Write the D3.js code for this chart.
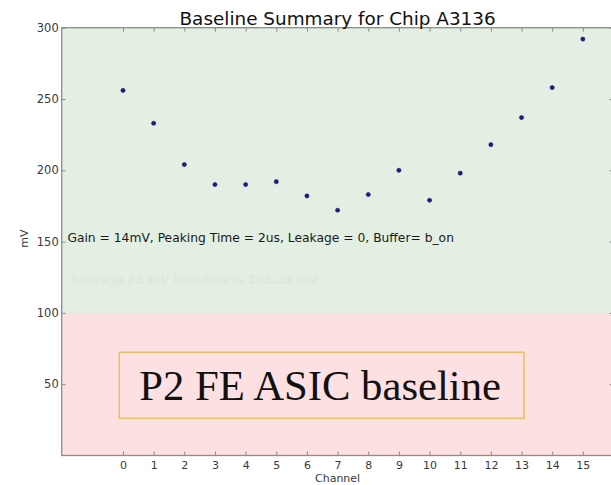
<!DOCTYPE html>
<html>
<head>
<meta charset="utf-8">
<script src="https://cdn.jsdelivr.net/npm/d3@7"></script>
<style>
  html, body { margin: 0; padding: 0; background: #fff; }
  svg { display: block; }
  .tick text { font-family: "DejaVu Sans", sans-serif; fill: #3a3a3a; }
</style>
</head>
<body>
<div id="chart"></div>
<script>
'use strict';

// Data
const channels = [0, 1, 2, 3, 4, 5, 6, 7, 8, 9, 10, 11, 12, 13, 14, 15];
const baseline = [256, 233, 204, 190, 190, 192, 182, 172, 183, 200, 179, 198, 218, 237, 258, 292];
const yTicks = [50, 100, 150, 200, 250, 300];
const bands = [
    {from: 100, to: 300, color: '#e2efe2'},
    {from: 0, to: 100, color: '#fde0e1'}
];
const titleText = 'Baseline Summary for Chip A3136';
const noteText = 'Gain = 14mV, Peaking Time = 2us, Leakage = 0, Buffer= b_on';
const fadedText = 'Average FE mV baseline is 203.23 mV';
const boxText = 'P2 FE ASIC baseline';

// Config svg
const w = 611;
const h = 485;
const svg = d3.select('#chart')
    .append('svg')
    .attr('width', w)
    .attr('height', h);

// Scales
const x = d3.scaleLinear().domain([-2, 16]).range([61.7, 613.5]);
const y = d3.scaleLinear().domain([0, 300]).range([455.5, 27.7]);

// Background bands
svg.selectAll('.band')
    .data(bands)
    .join('rect')
    .attr('class', 'band')
    .attr('x', x(-2))
    .attr('width', x(16) - x(-2))
    .attr('y', d => y(d.to))
    .attr('height', d => y(d.from) - y(d.to))
    .attr('fill', d => d.color);

// Faded text (barely visible in the original)
svg.append('text')
    .attr('x', 70)
    .attr('y', 284)
    .attr('textLength', 248)
    .attr('lengthAdjust', 'spacingAndGlyphs')
    .style('font-family', '"DejaVu Sans", sans-serif')
    .style('font-weight', 'bold')
    .style('font-size', '13px')
    .attr('fill', '#dbeadb')
    .text(fadedText);

// Axes
const axisColor = '#8c8c8c';
const styleAxis = g => {
    g.select('.domain').remove();
    g.selectAll('.tick line').attr('stroke', axisColor).attr('stroke-width', 1);
};

svg.append('g')
    .attr('transform', `translate(0,${y(0)})`)
    .call(d3.axisBottom(x).tickValues(channels).tickSize(-4).tickPadding(5.5))
    .call(styleAxis)
    .selectAll('text').style('font-size', '11px');

svg.append('g')
    .attr('transform', `translate(0,${y(300)})`)
    .call(d3.axisTop(x).tickValues(channels).tickSize(-4).tickFormat(''))
    .call(styleAxis);

svg.append('g')
    .attr('transform', `translate(${x(-2)},0)`)
    .call(d3.axisLeft(y).tickValues(yTicks).tickSize(-4).tickPadding(3))
    .call(styleAxis)
    .selectAll('text').style('font-size', '11.5px');

svg.append('g')
    .attr('transform', `translate(${x(16)},0)`)
    .call(d3.axisRight(y).tickValues(yTicks).tickSize(-4).tickFormat(''))
    .call(styleAxis);

// Frame
svg.append('rect')
    .attr('x', x(-2))
    .attr('y', y(300))
    .attr('width', x(16) - x(-2))
    .attr('height', y(0) - y(300))
    .attr('fill', 'none')
    .attr('stroke', axisColor)
    .attr('stroke-width', 1.3);

// Points
svg.selectAll('.pt')
    .data(channels)
    .join('circle')
    .attr('class', 'pt')
    .attr('cx', d => x(d))
    .attr('cy', (d, i) => y(baseline[i]))
    .attr('r', 2.1)
    .attr('fill', '#1c1c8c')
    .attr('stroke', '#101050')
    .attr('stroke-width', 0.5);

// Title
svg.append('text')
    .attr('x', (x(-2) + x(16)) / 2)
    .attr('y', 25)
    .attr('text-anchor', 'middle')
    .style('font-family', '"DejaVu Sans", sans-serif')
    .style('font-size', '18.4px')
    .attr('fill', '#111')
    .text(titleText);

// Axis labels
svg.append('text')
    .attr('x', (x(-2) + x(16)) / 2)
    .attr('y', 482)
    .attr('text-anchor', 'middle')
    .style('font-family', '"DejaVu Sans", sans-serif')
    .style('font-size', '11px')
    .attr('fill', '#3a3a3a')
    .text('Channel');

svg.append('text')
    .attr('transform', `translate(28,${(y(0) + y(300)) / 2 - 3}) rotate(-90)`)
    .attr('text-anchor', 'middle')
    .style('font-family', '"DejaVu Sans", sans-serif')
    .style('font-size', '11px')
    .attr('fill', '#3a3a3a')
    .text('mV');

// Note
svg.append('text')
    .attr('x', 67.4)
    .attr('y', 241.7)
    .style('font-family', '"DejaVu Sans", sans-serif')
    .style('font-size', '12.3px')
    .attr('fill', '#1a1a1a')
    .text(noteText);

// Boxed label
svg.append('rect')
    .attr('x', 119.3)
    .attr('y', 352.3)
    .attr('width', 404.7)
    .attr('height', 66)
    .attr('fill', 'none')
    .attr('stroke', '#e9c165')
    .attr('stroke-width', 1.6);

svg.append('text')
    .attr('x', 139.3)
    .attr('y', 400)
    .style('font-family', '"Liberation Serif", serif')
    .style('font-size', '42.7px')
    .attr('fill', '#111')
    .text(boxText);
</script>
</body>
</html>
